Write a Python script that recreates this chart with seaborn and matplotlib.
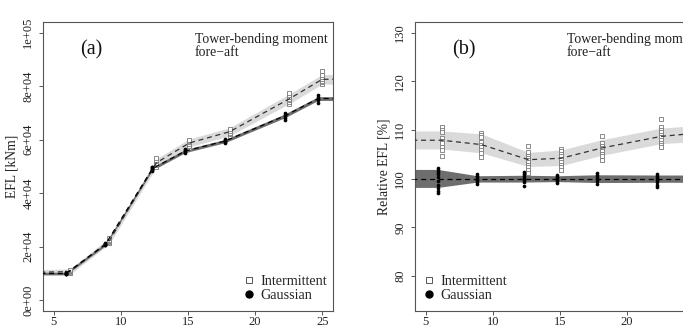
import numpy as np
import pandas as pd
import matplotlib
matplotlib.use("Agg")
import matplotlib.pyplot as plt
import seaborn as sns
from matplotlib.lines import Line2D
from matplotlib.ticker import FuncFormatter

# ---------------- data ----------------
# bin positions (mean wind speed) for each simulation type
gauss_x = [5.9, 8.85, 12.35, 14.8, 17.75, 22.2, 24.7]
inter_x = [6.2, 9.15, 12.65, 15.1, 18.1, 22.55, 25.0]

# trend lines continue flat beyond the first / last bin
line_gauss_x = [4.0] + gauss_x + [26.0]
line_inter_x = [4.0] + inter_x + [26.0]

# panel (a): absolute EFL [kNm]
gauss_abs_mean = [10000, 10000, 20900, 49200, 55800, 59500, 68900, 75400, 75400]
gauss_abs_half = [500, 500, 500, 600, 600, 600, 700, 700, 700]
inter_abs_mean = [10500, 10700, 22300, 51400, 58800, 63000, 75300, 82600, 82600]
inter_abs_half = [1000, 1000, 1200, 1500, 1500, 1500, 1800, 1800, 1800]

gauss_abs_pts = [
    [9700, 9900, 10000, 10100, 10300, 10500],
    [20500, 20700, 20900, 21100, 21300],
    [48300, 48700, 49000, 49300, 49700, 50000],
    [55100, 55500, 55800, 56100, 56500],
    [58900, 59300, 59500, 59800, 60200],
    [67400, 68200, 68800, 69300, 70000],
    [73900, 74700, 75300, 75900, 76600],
]
inter_abs_pts = [
    [10300, 10600, 10800, 11000, 11300],
    [21500, 21900, 22300, 22700, 23100],
    [50000, 50700, 51300, 51900, 52500, 53000],
    [57100, 57800, 58400, 59000, 59500, 59900],
    [61400, 62100, 62700, 63300, 63900],
    [73300, 74000, 74700, 75300, 76000, 76800, 77600],
    [80700, 81400, 82000, 82600, 83300, 84200, 85700],
]

# panel (b): relative EFL [%]
inter_rel_mean = [107.9, 107.9, 107.0, 103.9, 104.2, 106.3, 108.7, 109.3, 109.3]
inter_rel_lo = [106.1, 106.1, 105.3, 102.5, 102.7, 104.8, 107.2, 107.6, 107.6]
inter_rel_hi = [109.8, 109.8, 109.2, 105.4, 105.9, 108.0, 110.4, 110.9, 110.9]
gauss_rel_mean = [100, 100, 100, 100, 100, 100, 100, 100, 100]
gauss_rel_lo = [98.2, 98.2, 99.3, 99.3, 99.4, 99.2, 99.25, 99.25, 99.25]
gauss_rel_hi = [101.9, 101.9, 100.6, 100.7, 100.6, 100.8, 100.75, 100.75, 100.75]

gauss_rel_pts = [
    [102.2, 101.8, 101.3, 100.9, 100.4, 99.6, 98.8, 98.1, 97.5, 97.1],
    [101.0, 100.6, 100.3, 100.0, 99.7, 99.4, 99.0],
    [101.3, 100.9, 100.5, 100.1, 99.8, 99.4, 98.4],
    [100.7, 100.4, 100.1, 99.8, 99.5, 99.1],
    [101.1, 100.7, 100.3, 99.9, 99.5, 98.9],
    [100.9, 100.5, 100.1, 99.7, 99.3, 98.8, 98.2],
    [101.0, 100.4, 99.8, 99.2, 98.7],
]
inter_rel_pts = [
    [110.6, 110.0, 109.6, 108.3, 107.8, 107.3, 106.6, 105.9, 104.7],
    [109.4, 109.0, 108.5, 107.6, 107.0, 106.6, 105.9, 105.3, 104.4],
    [106.8, 105.4, 104.7, 104.2, 103.9, 103.5, 102.9, 102.4, 101.8, 101.2],
    [106.1, 105.6, 105.1, 104.6, 104.1, 103.5, 102.9, 102.4, 101.8],
    [108.7, 107.3, 106.8, 106.3, 105.7, 105.1, 104.6, 103.9],
    [112.2, 110.6, 110.0, 109.5, 109.0, 108.5, 108.0, 107.4, 107.0, 106.5],
    [111.5, 110.5, 109.8, 109.2, 108.6, 108.0, 107.3],
]

x_ticks = [5, 10, 15, 20, 25]
abs_ticks = [0, 20000, 40000, 60000, 80000, 100000]
rel_ticks = [80, 90, 100, 110, 120, 130]


def long_df(xs, pts):
    rows = [(x, v) for x, vals in zip(xs, pts) for v in vals]
    return pd.DataFrame(rows, columns=["ws", "efl"])


# ---------------- style ----------------
sns.set_theme(style="ticks")
plt.rcParams["font.family"] = ["Liberation Serif", "DejaVu Serif"]
plt.rcParams["axes.edgecolor"] = "#555555"
plt.rcParams["axes.linewidth"] = 0.8
plt.rcParams["xtick.color"] = "#555555"
plt.rcParams["ytick.color"] = "#555555"
plt.rcParams["xtick.labelcolor"] = "#222222"
plt.rcParams["ytick.labelcolor"] = "#222222"

LIGHT = "#dadada"
DARK = "#6e6e6e"
fig = plt.figure(figsize=(6.83, 3.26), dpi=100)
axA = fig.add_axes([43 / 683, 15 / 326, 290 / 683, 289 / 326])
axB = fig.add_axes([415 / 683, 15 / 326, 290 / 683, 289 / 326])


def style_axes(ax, yticks, fmt, ylim, ylabel):
    ax.set_xlim(4.2, 25.8)
    ax.set_ylim(*ylim)
    ax.set_xticks(x_ticks)
    ax.set_yticks(yticks)
    ax.yaxis.set_major_formatter(FuncFormatter(fmt))
    ax.tick_params(axis="both", labelsize=9, length=3, width=0.7)
    ax.tick_params(axis="x", pad=0.6)
    ax.tick_params(axis="y", pad=3.2)
    for lab in ax.get_yticklabels():
        lab.set_rotation(90)
        lab.set_va("center")
    ax.set_xlabel("")
    ax.set_ylabel(ylabel, fontsize=9.8, color="#222222")
    ax.yaxis.set_label_coords(-0.085, 0.5)
    for s in ax.spines.values():
        s.set_visible(True)


def legend(ax, x0):
    handles = [
        Line2D([], [], ls="", marker="s", ms=5, mfc="white", mec="#555555", mew=0.7),
        Line2D([], [], ls="", marker="o", ms=5, mfc="black", mec="black"),
    ]
    ax.legend(handles, ["Intermittent", "Gaussian"], loc="lower left",
              bbox_to_anchor=(x0, 0.03), frameon=False, fontsize=10.2,
              borderpad=0, handlelength=0.8, handletextpad=0.45,
              labelspacing=0.08, borderaxespad=0)


def panel(ax, gm, gh_lo, gh_hi, im, ih_lo, ih_hi, gpts, ipts, tag):
    ax.fill_between(line_inter_x, ih_lo, ih_hi, color=LIGHT, lw=0, zorder=1)
    ax.fill_between(line_gauss_x, gh_lo, gh_hi, color=DARK, lw=0, zorder=1.1)
    sns.scatterplot(data=long_df(inter_x, ipts), x="ws", y="efl", ax=ax,
                    marker="s", s=10, facecolor="white", edgecolor="#7a7a7a",
                    linewidth=0.6, zorder=3)
    sns.scatterplot(data=long_df(gauss_x, gpts), x="ws", y="efl", ax=ax,
                    marker="o", s=7, color="black", linewidth=0, zorder=3)
    sns.lineplot(x=line_inter_x, y=im, ax=ax, color="#333333", lw=0.9,
                 linestyle=(0, (4, 3)), zorder=4, sort=False)
    sns.lineplot(x=line_gauss_x, y=gm, ax=ax, color="black", lw=0.9,
                 linestyle=(0, (4, 3)), zorder=4, sort=False)
    ax.text(0.167, 0.903, tag, transform=ax.transAxes, fontsize=14.5,
            ha="center", va="center", color="#111111")
    ax.text(0.524, 0.962, "Tower-bending moment\nfore\u2212aft",
            transform=ax.transAxes, fontsize=9.9, ha="left", va="top",
            linespacing=1.0, color="#222222")


# panel (a)
ga_lo = [m - h for m, h in zip(gauss_abs_mean, gauss_abs_half)]
ga_hi = [m + h for m, h in zip(gauss_abs_mean, gauss_abs_half)]
ia_lo = [m - h for m, h in zip(inter_abs_mean, inter_abs_half)]
ia_hi = [m + h for m, h in zip(inter_abs_mean, inter_abs_half)]
panel(axA, gauss_abs_mean, ga_lo, ga_hi, inter_abs_mean, ia_lo, ia_hi,
      gauss_abs_pts, inter_abs_pts, "(a)")
style_axes(axA, abs_ticks, lambda v, p: f"{v:.0e}", (-4000, 104000), "EFL [kNm]")
legend(axA, 0.69)

# panel (b)
panel(axB, gauss_rel_mean, gauss_rel_lo, gauss_rel_hi, inter_rel_mean,
      inter_rel_lo, inter_rel_hi, gauss_rel_pts, inter_rel_pts, "(b)")
style_axes(axB, rel_ticks, lambda v, p: f"{v:.0f}", (72.8, 132.2), "Relative EFL [%]")
legend(axB, 0.028)

fig.savefig("out.png", dpi=100)
